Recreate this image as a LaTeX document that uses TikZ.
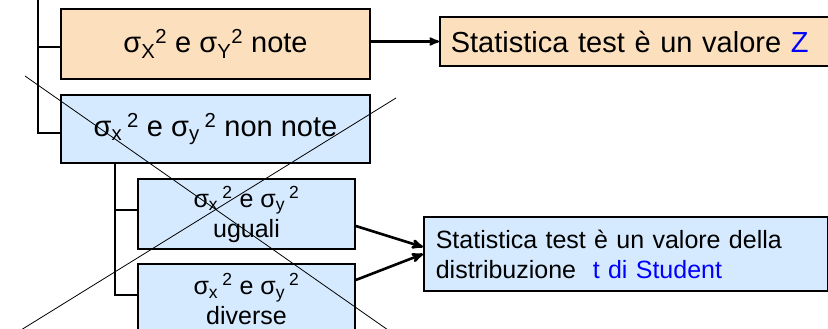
\documentclass[tikz,border=0pt]{standalone}
\usepackage{fontspec}
\setmainfont{Liberation Sans}
\usetikzlibrary{arrows}
\definecolor{peach}{RGB}{252,224,190}
\definecolor{skyblue}{RGB}{213,234,255}

\begin{document}
\begin{tikzpicture}[x=1pt,y=-1pt,>=stealth',line width=1.6pt,
        box/.style={draw=black,line width=1.6pt,inner sep=0pt,align=center},
        note/.style={box,fill=peach},
        nonnote/.style={box,fill=skyblue},
        big/.style={font=\fontsize{29}{34}\selectfont},
        small/.style={font=\fontsize{25}{30}\selectfont},
        cross/.style={line width=0.8pt}]
                \useasboundingbox (0,0) rectangle (828,329);
                \clip (0,0) rectangle (828,329);
                \node[note,big,minimum width=309pt,minimum height=70pt](noti)at(215.5, 44){σ\textsubscript{X}\textsuperscript{2} e σ\textsubscript{Y}\textsuperscript{2} note};
                \node[nonnote,big,minimum width=309pt,minimum height=68pt](ignoti)at(215.5, 129){σ\textsubscript{x}\,\textsuperscript{2} e σ\textsubscript{y}\,\textsuperscript{2} non note};
                \node[note,big,anchor=west,minimum height=49pt,text width=380pt,inner xsep=11pt,align=left](valz)at(439, 41.5){Statistica test è un valore \textcolor{blue}{Z}};
                \node[nonnote,small,minimum width=217pt,minimum height=70pt](uguali)at(246.5, 214){σ\textsubscript{x}\,\textsuperscript{2} e σ\textsubscript{y}\,\textsuperscript{2}\\uguali};
                \node[nonnote,small,minimum width=217pt,minimum height=70pt](diverse)at(246.5, 299){σ\textsubscript{x}\,\textsuperscript{2} e σ\textsubscript{y}\,\textsuperscript{2}\\diverse};
                \node[nonnote,small,anchor=west,minimum height=74pt,text width=380pt,inner xsep=12pt,align=left](student)at(423, 254){Statistica test è un valore della\\distribuzione\ \ \textcolor{blue}{t di Student}};
                % tree lines
                \coordinate(root)at(38, 0);
                \coordinate(sub)at(115, 163);
                \draw(root) |- ([yshift=-3pt]noti.west);
                \draw(root) |- ([yshift=-4pt]ignoti.west);
                \draw(sub) |- ([yshift=4pt]uguali.west);
                \draw(sub) |- ([yshift=4pt]diverse.west);
                % arrows
                \draw[->,line width=2.2pt](noti.east |- valz.west) -- (valz.west);
                \draw[->,line width=2.6pt]([yshift=-12pt]uguali.east) -- ([yshift=7pt]student.west);
                \draw[->,line width=2.6pt]([yshift=19pt]diverse.east) -- (student.west);
                % crossed out
                \coordinate(a1)at(25, 76);
                \coordinate(a2)at(388, 330);
                \coordinate(b1)at(396, 98);
                \coordinate(b2)at(21, 330);
                \draw[cross](a1) -- (a2);
                \draw[cross](b1) -- (b2);
            \end{tikzpicture}
\end{document}
